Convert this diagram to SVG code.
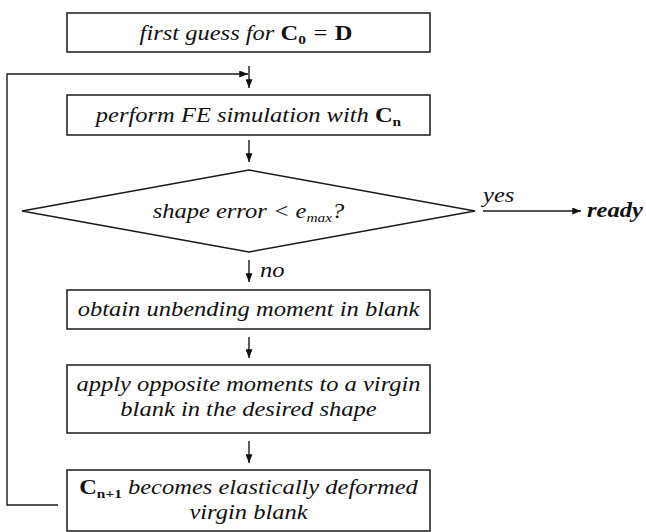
<svg xmlns="http://www.w3.org/2000/svg" width="646" height="532" viewBox="0 0 646 532">
  <style>
    .box { fill: #ffffff; stroke: #1a1a1a; stroke-width: 1.5; }
    .line { fill: none; stroke: #1a1a1a; stroke-width: 1.4; }
    .lbl { font-family: "Liberation Serif", "Times New Roman", serif; font-size: 21.5px; font-style: italic; fill: #111111; }
    .b { font-weight: bold; font-style: normal; }
    .sub { font-size: 13.5px; }
  </style>
  <defs>
    <marker id="arrow" viewBox="0 0 10 8" refX="10" refY="4" markerWidth="9" markerHeight="7" markerUnits="userSpaceOnUse" orient="auto">
      <path d="M0,0 L10,4 L0,8 Z" fill="#111111"/>
    </marker>
  </defs>

  <rect width="646" height="532" fill="#ffffff"/>

  <!-- connectors -->
  <g id="connectors">
    <polyline class="line" points="58,505 7,505 7,74 248,74" marker-end="url(#arrow)"/>
    <line class="line" x1="249" y1="66" x2="249" y2="88" marker-end="url(#arrow)"/>
    <line class="line" x1="249" y1="140" x2="249" y2="162" marker-end="url(#arrow)"/>
    <line class="line" x1="483" y1="211" x2="581" y2="211" marker-end="url(#arrow)"/>
    <line class="line" x1="249" y1="260" x2="249" y2="282" marker-end="url(#arrow)"/>
    <line class="line" x1="249" y1="337" x2="249" y2="358" marker-end="url(#arrow)"/>
    <line class="line" x1="249" y1="441" x2="249" y2="463" marker-end="url(#arrow)"/>
    <text class="lbl" transform="translate(483,202) scale(1.14,1)">yes</text>
    <text class="lbl" transform="translate(260,277) scale(1.14,1)">no</text>
  </g>

  <g id="start">
    <rect class="box" x="67" y="13" width="363" height="39"/>
    <text class="lbl" text-anchor="middle" transform="translate(246,39.5) scale(1.14,1)">first guess for <tspan class="b">C</tspan><tspan class="b sub" dy="4">0</tspan><tspan dy="-4"> = </tspan><tspan class="b">D</tspan></text>
  </g>

  <g id="simulate">
    <rect class="box" x="67" y="95" width="363" height="40"/>
    <text class="lbl" text-anchor="middle" transform="translate(248.5,121.5) scale(1.14,1)">perform FE simulation with <tspan class="b">C</tspan><tspan class="b sub" dy="4">n</tspan></text>
  </g>

  <g id="check">
    <polygon class="box" points="22,211 249,170 475,211 249,252"/>
    <text class="lbl" text-anchor="middle" transform="translate(248.5,218) scale(1.14,1)">shape error &lt; e<tspan class="sub" dy="4">max</tspan><tspan dy="-4">?</tspan></text>
  </g>

  <g id="ready">
    <text class="lbl" font-weight="bold" transform="translate(587,217) scale(1.14,1)">ready</text>
  </g>

  <g id="unbend">
    <rect class="box" x="67" y="290" width="363" height="39"/>
    <text class="lbl" text-anchor="middle" transform="translate(248.5,316) scale(1.14,1)">obtain unbending moment in blank</text>
  </g>

  <g id="apply">
    <rect class="box" x="67" y="365" width="363" height="68"/>
    <text class="lbl" text-anchor="middle" transform="translate(248.5,391) scale(1.14,1)">apply opposite moments to a virgin</text>
    <text class="lbl" text-anchor="middle" transform="translate(248.5,416) scale(1.14,1)">blank in the desired shape</text>
  </g>

  <g id="update">
    <rect class="box" x="67" y="470" width="363" height="61"/>
    <text class="lbl" text-anchor="middle" transform="translate(248.5,494) scale(1.14,1)"><tspan class="b">C</tspan><tspan class="b sub" dy="4">n+1</tspan><tspan dy="-4"> becomes elastically deformed</tspan></text>
    <text class="lbl" text-anchor="middle" transform="translate(248.5,519) scale(1.14,1)">virgin blank</text>
  </g>
</svg>
